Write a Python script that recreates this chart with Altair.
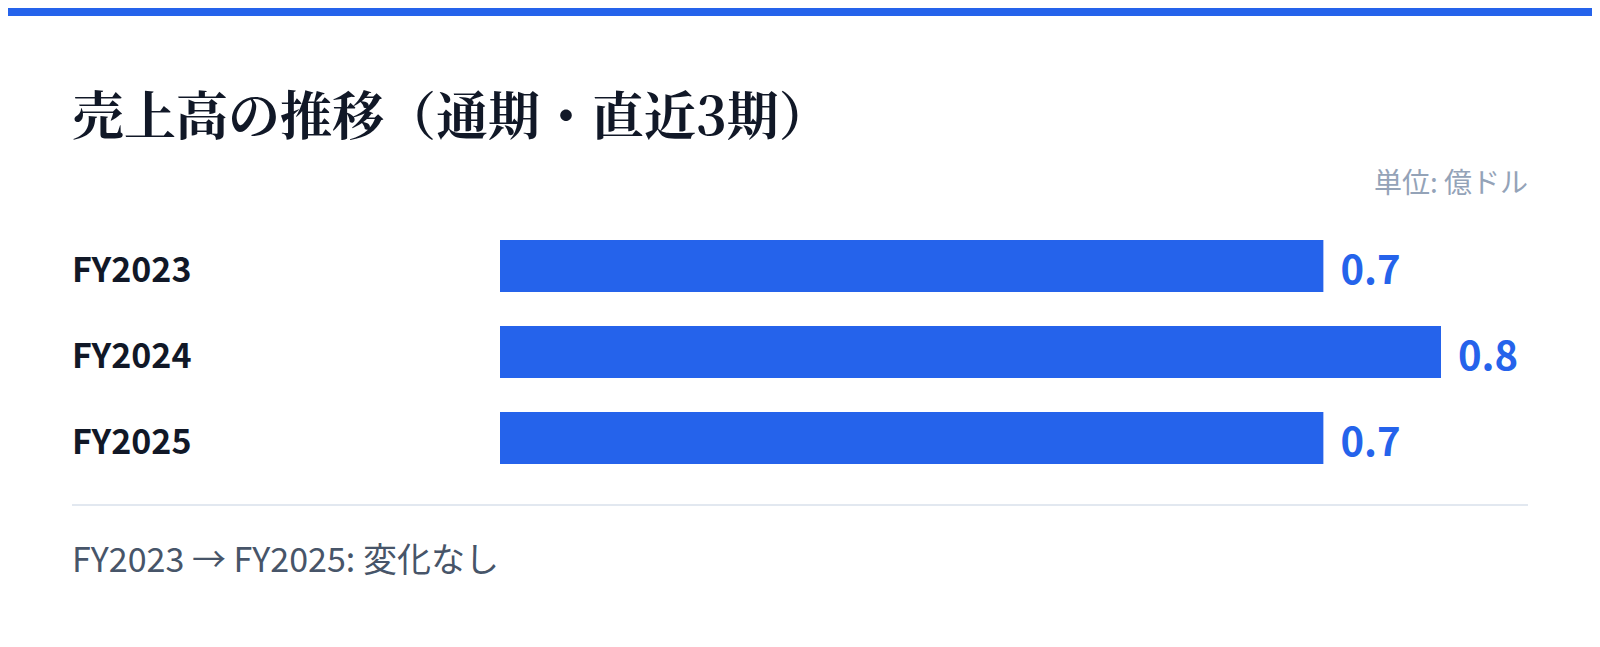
import altair as alt
import pandas as pd

categories = ["FY2023", "FY2024", "FY2025"]
values = [0.7, 0.8, 0.7]
value_labels = ["0.7", "0.8", "0.7"]
title_text = "売上高の推移（通期・直近3期）"
unit_text = "単位: 億ドル"
footer_text = "FY2023 → FY2025: 変化なし"

BLUE = "#2563eb"
DARK = "#111827"
SANS = "Noto Sans CJK JP"

df = pd.DataFrame({"cat": categories, "value": values, "label": value_labels})

xscale = alt.Scale(domain=[0, 0.8], range=[492, 1433])
yscale = alt.Scale(range=[215, 473], paddingInner=0, paddingOuter=0)
Y = alt.Y("cat:N", scale=yscale, axis=None, sort=categories)

base = alt.Chart(df)

bars = base.mark_bar(color=BLUE, size=52).encode(
    x=alt.X("value:Q", scale=xscale, axis=None),
    y=Y,
)

vals = base.mark_text(
    align="left", baseline="middle", dx=17, dy=6, font=SANS, fontSize=40,
    fontWeight="bold", color=BLUE,
).encode(
    x=alt.X("value:Q", scale=xscale, axis=None),
    y=Y,
    text="label:N",
)

cats = base.mark_text(
    align="left", baseline="middle", dy=6, font=SANS, fontSize=34,
    fontWeight="bold", color=DARK,
).encode(
    x=alt.value(64),
    y=Y,
    text="cat:N",
)

def label(text, x, y, size, color, weight="normal", align="left", font=SANS):
    return alt.Chart(pd.DataFrame({"t": [text]})).mark_text(
        align=align, baseline="alphabetic", font=font, fontSize=size,
        fontWeight=weight, color=color,
    ).encode(x=alt.value(x), y=alt.value(y), text="t:N")

title = label(title_text, 64, 127, 52, DARK, "bold",
              font="Noto Serif CJK JP, serif")
unit = label(unit_text, 1520, 185, 28, "#94a3b8", align="right")
footer = label(footer_text, 64, 564, 34, "#475569")

strip = alt.Chart(pd.DataFrame({"a": [0]})).mark_rect(color=BLUE).encode(
    x=alt.value(0), x2=alt.value(1584), y=alt.value(0), y2=alt.value(8)
)
sep = alt.Chart(pd.DataFrame({"a": [0]})).mark_rule(
    color="#e2e8f0", strokeWidth=2
).encode(x=alt.value(64), x2=alt.value(1520), y=alt.value(497), y2=alt.value(497))

chart = alt.layer(strip, title, unit, bars, vals, cats, sep, footer).properties(
    width=1584, height=631, padding=0, autosize="none", background="white"
).configure_view(stroke=None)

chart.save("out.html", embed_options={"renderer": "svg", "actions": False})
